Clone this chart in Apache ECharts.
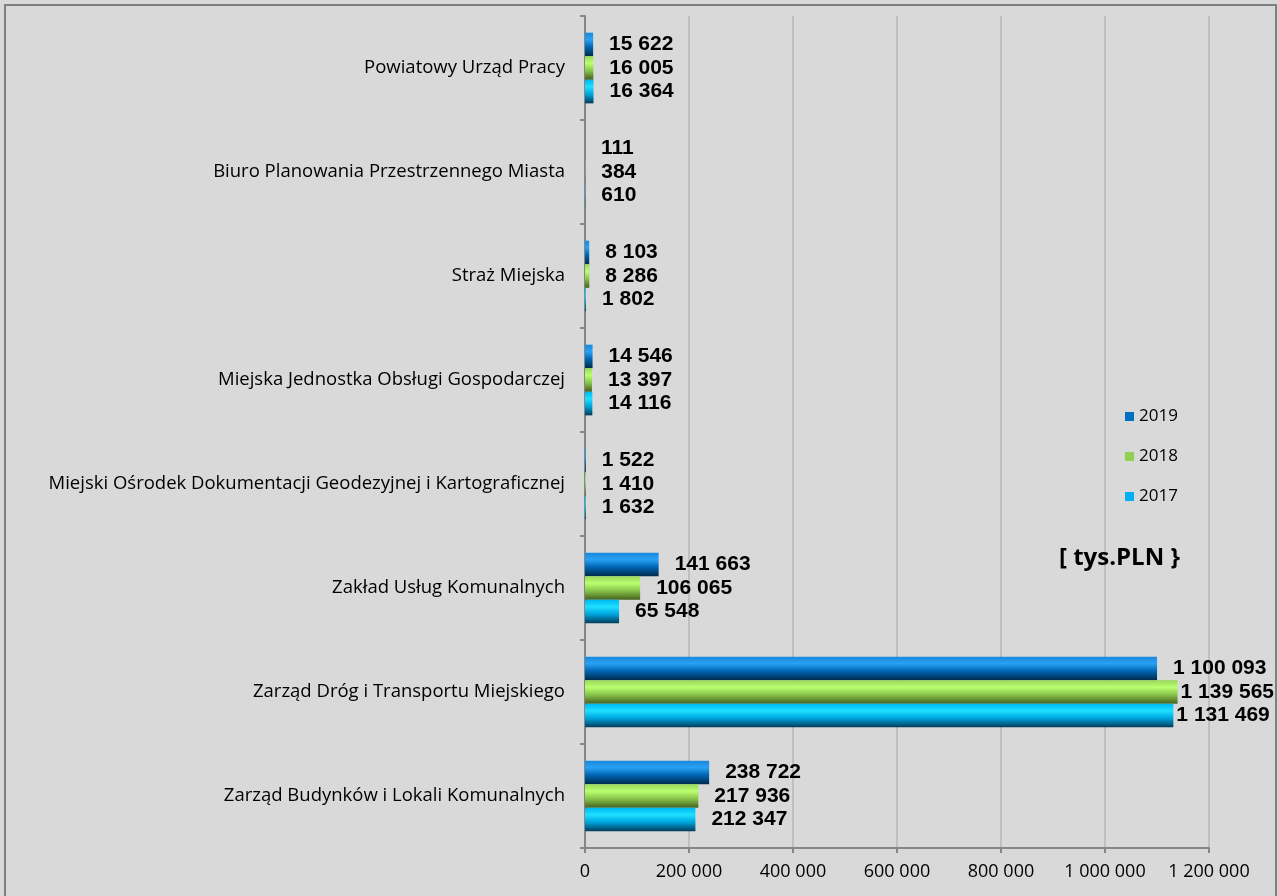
<!DOCTYPE html>
<html>
<head>
<meta charset="utf-8">
<script src="https://cdn.jsdelivr.net/npm/echarts@6/dist/echarts.min.js"></script>
<style>
  html, body { margin: 0; padding: 0; background: #d9d9d9; }
  #chart { width: 1278px; height: 896px; }
</style>
</head>
<body>
<div id="chart"></div>
<script>
// kategorie od dołu do góry
var categories = [
  'Zarząd Budynków i Lokali Komunalnych',
  'Zarząd Dróg i Transportu Miejskiego',
  'Zakład Usług Komunalnych',
  'Miejski Ośrodek Dokumentacji Geodezyjnej i Kartograficznej',
  'Miejska Jednostka Obsługi Gospodarczej',
  'Straż Miejska',
  'Biuro Planowania Przestrzennego Miasta',
  'Powiatowy Urząd Pracy'
];
var v2019 = [238722, 1100093, 141663, 1522, 14546, 8103, 111, 15622];
var v2018 = [217936, 1139565, 106065, 1410, 13397, 8286, 384, 16005];
var v2017 = [212347, 1131469, 65548, 1632, 14116, 1802, 610, 16364];
var years = ['2019', '2018', '2017'];
var yearColors = ['#0070c0', '#92d050', '#00b0f0'];

function fmt(v) {
  return String(v).replace(/\B(?=(\d{3})+(?!\d))/g, ' ');
}

function grad(top, hi, mid, bottom) {
  return new echarts.graphic.LinearGradient(0, 0, 0, 1, [
    { offset: 0, color: top },
    { offset: 0.3, color: hi },
    { offset: 0.6, color: mid },
    { offset: 1, color: bottom }
  ]);
}

function makeSeries(name, values, fill) {
  return {
    name: name,
    type: 'bar',
    barGap: '0%',
    barCategoryGap: '32%',
    itemStyle: { color: fill },
    data: values.map(function (v) {
      // duże słupki - etykieta tuż przy końcu
      return { value: v, label: { distance: v > 1120000 ? 3 : 16 } };
    }),
    label: {
      show: true,
      position: 'right',
      color: '#000',
      fontFamily: 'Liberation Sans',
      fontWeight: 'bold',
      fontSize: 21,
      formatter: function (p) { return fmt(p.value); }
    }
  };
}

var chart = echarts.init(document.getElementById('chart'));
chart.setOption({
  backgroundColor: '#d9d9d9',
  animation: false,
  grid: { left: 585, right: 69, top: 16, bottom: 48, containLabel: false },
  legend: {
    orient: 'vertical',
    left: 1120,
    top: 403,
    itemWidth: 9,
    itemHeight: 9,
    itemGap: 23,
    icon: 'rect',
    data: years.map(function (y, i) {
      return { name: y, itemStyle: { color: yearColors[i] } };
    }),
    textStyle: { fontFamily: 'Open Sans', fontSize: 17, color: '#000' }
  },
  xAxis: {
    type: 'value',
    min: 0,
    max: 1200000,
    interval: 200000,
    axisLine: { show: true, lineStyle: { color: '#868686', width: 2 } },
    axisTick: { show: true, length: 5, lineStyle: { color: '#868686', width: 2 } },
    splitLine: { show: true, lineStyle: { color: '#bfbfbf', width: 2 } },
    axisLabel: {
      color: '#000',
      fontFamily: 'Open Sans',
      fontSize: 18,
      margin: 15,
      formatter: function (v) { return fmt(v); }
    }
  },
  yAxis: {
    type: 'category',
    data: categories,
    axisLine: { show: true, lineStyle: { color: '#868686', width: 2 } },
    axisTick: { show: true, length: 5, lineStyle: { color: '#868686', width: 2 } },
    axisLabel: {
      color: '#000',
      fontFamily: 'Open Sans',
      fontSize: 18.5,
      margin: 20
    }
  },
  series: [
    makeSeries('2019', v2019, grad('#1a88de', '#2aa0f4', '#0068b4', '#002a4c')),
    makeSeries('2018', v2018, grad('#98d858', '#baff72', '#8cc84c', '#44601e')),
    makeSeries('2017', v2017, grad('#00b8f0', '#1ee0ff', '#00a8e0', '#003c5a'))
  ],
  graphic: [
    {
      type: 'rect',
      shape: { x: 5, y: 5, width: 1271, height: 900 },
      style: { fill: 'none', stroke: '#7f7f7f', lineWidth: 2 },
      silent: true
    },
    {
      type: 'text',
      left: 1059,
      top: 546,
      z: 100,
      style: {
        text: '[ tys.PLN }',
        fill: '#000',
        font: 'bold 24px "Open Sans"'
      }
    }
  ]
});
</script>
</body>
</html>
